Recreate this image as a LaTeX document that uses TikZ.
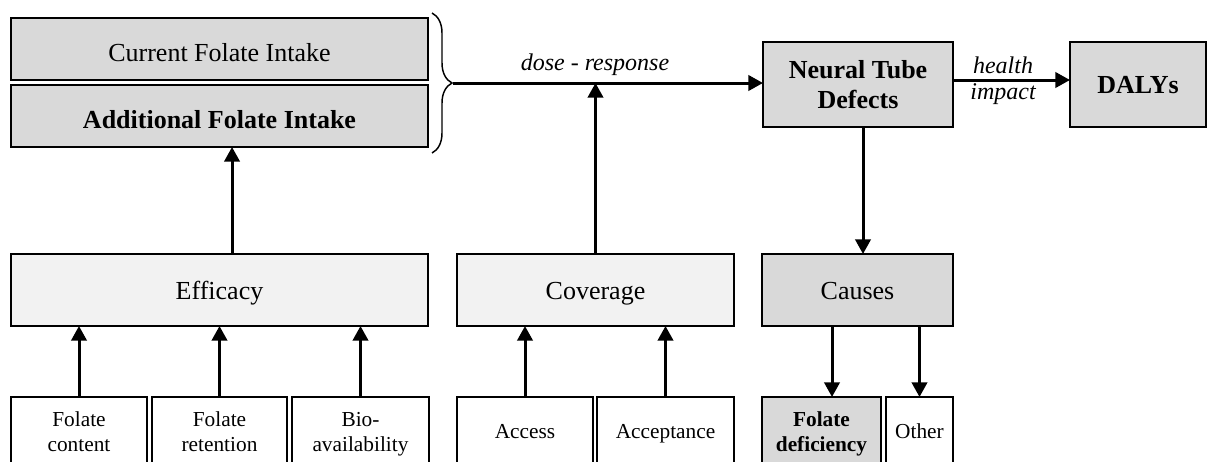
\documentclass[tikz,border=0pt]{standalone}
\usepackage{fontspec}
\setmainfont{Liberation Serif}
\usetikzlibrary{arrows.meta,decorations.pathreplacing}
\definecolor{boxgray}{HTML}{D9D9D9}
\definecolor{boxlight}{HTML}{F2F2F2}
\newcommand\hs[1]{\rule[-6.75pt]{0pt}{#1}}
\tikzset{
  bx/.style={draw=black, line width=1.5pt, inner sep=0pt, outer sep=0pt, align=center},
  big/.style={font=\fontsize{19.5}{22.5}\selectfont},
  small/.style={font=\fontsize{16}{18.75}\selectfont},
  lbl/.style={font=\fontsize{18}{20}\selectfont\itshape, inner sep=0pt},
  arr/.style={line width=2.25pt, -{Triangle[length=11pt,width=11.5pt]}},
}
\begin{document}
\begin{tikzpicture}[x=0.75pt,y=-0.75pt]
\useasboundingbox (0,0) rectangle (1207,461);
\clip (0,0) rectangle (1207,461);
% top boxes
\node[bx, big, fill=boxgray, minimum width=417*0.75pt, minimum height=62*0.75pt] (cur) at (219.5,49) {\hs{32pt}Current Folate Intake};
\node[bx, big, fill=boxgray, minimum width=417*0.75pt, minimum height=62*0.75pt, font=\fontsize{19.5}{22.5}\selectfont\bfseries] (add) at (219.5,116) {\hs{32pt}Additional Folate Intake};
\node[bx, big, fill=boxgray, minimum width=190*0.75pt, minimum height=85*0.75pt, font=\fontsize{19.5}{22.5}\selectfont\bfseries] (ntd) at (858,84.5) {\hs{27pt}Neural Tube\\\strut Defects};
\node[bx, big, fill=boxgray, minimum width=136*0.75pt, minimum height=85*0.75pt, font=\fontsize{19.5}{22.5}\selectfont\bfseries] (daly) at (1138,84.5) {\hs{27pt}DALYs};
% middle boxes
\node[bx, big, fill=boxlight, minimum width=417*0.75pt, minimum height=72*0.75pt] (eff) at (219.5,290) {\hs{27pt}Efficacy};
\node[bx, big, fill=boxlight, minimum width=277*0.75pt, minimum height=72*0.75pt] (cov) at (595.5,290) {\hs{27pt}Coverage};
\node[bx, big, fill=boxgray, minimum width=191*0.75pt, minimum height=72*0.75pt] (cau) at (857.5,290) {\hs{27pt}Causes};
% bottom boxes
\node[bx, small, fill=white, minimum width=136*0.75pt, minimum height=73*0.75pt] (fc) at (79,433.5) {\strut Folate\\\strut content};
\node[bx, small, fill=white, minimum width=135*0.75pt, minimum height=73*0.75pt] (fr) at (219.5,433.5) {\strut Folate\\\strut retention};
\node[bx, small, fill=white, minimum width=137*0.75pt, minimum height=73*0.75pt] (ba) at (360.5,433.5) {\strut Bio-\\\strut availability};
\node[bx, small, fill=white, minimum width=136*0.75pt, minimum height=73*0.75pt] (acc) at (525,433.5) {\strut Access};
\node[bx, small, fill=white, minimum width=137*0.75pt, minimum height=73*0.75pt] (acp) at (665.5,433.5) {\strut Acceptance};
\node[bx, small, fill=boxgray, minimum width=119*0.75pt, minimum height=73*0.75pt, font=\fontsize{16}{18.75}\selectfont\bfseries] (fd) at (821.5,433.5) {\strut Folate\\\strut deficiency};
\node[bx, small, fill=white, minimum width=67*0.75pt, minimum height=73*0.75pt] (oth) at (919.5,433.5) {\strut Other};
% brace
\draw[line width=1.1pt, decorate, decoration={brace, amplitude=15pt}] (432,13) -- (432,153);
\coordinate (bt) at (453,83);
\coordinate (hi) at (953,80);
\coordinate (c1) at (832,397);
% connectors
\draw[arr] (bt) -- (ntd.west |- bt);
\node[lbl] (dr) at (595,65) {dose - response};
\draw[arr] (cov.north) -- (cov.north |- bt);
\draw[arr] (hi) -- (daly.west |- hi);
\node[lbl] (hl) at (1003,65) {health};
\node[lbl] (im) at (1003,94) {impact};
\draw[arr] ([xshift=9.4pt]eff.north) -- ([xshift=9.4pt]add.south);
\draw[arr] ([xshift=3.75pt]ntd.south) -- ([xshift=3.75pt]ntd.south |- cau.north);
\draw[arr] (fc.north) -- (fc.north |- eff.south);
\draw[arr] (fr.north) -- (fr.north |- eff.south);
\draw[arr] (ba.north) -- (ba.north |- eff.south);
\draw[arr] (acc.north) -- (acc.north |- cov.south);
\draw[arr] (acp.north) -- (acp.north |- cov.south);
\draw[arr] (c1 |- cau.south) -- (c1);
\draw[arr] (oth.north |- cau.south) -- (oth.north);
\end{tikzpicture}
\end{document}
